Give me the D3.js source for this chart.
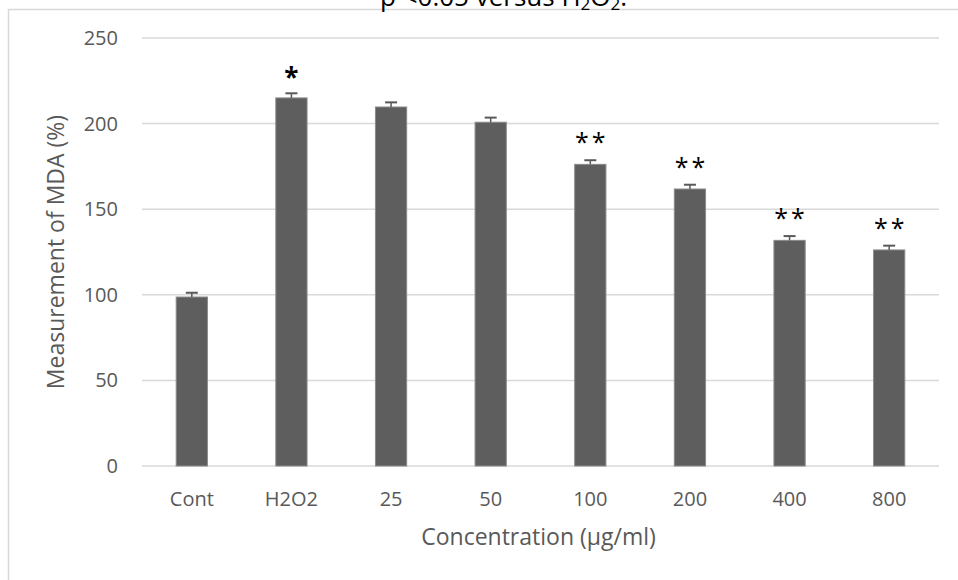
<!DOCTYPE html>
<html>
<head>
  <meta charset="utf-8">
  <style>
    body { margin: 0; background: #fff; }
    text { font-family: "Open Sans", sans-serif; }
  </style>
</head>
<body>
  <script src="https://cdn.jsdelivr.net/npm/d3@7/dist/d3.min.js"></script>
  <script>
    // data
    var groups = ["Cont", "H2O2", "25", "50", "100", "200", "400", "800"];
    var mda    = [98.7, 215.0, 209.7, 200.8, 176.2, 161.8, 131.8, 126.2];
    var errs   = [2.5, 2.7, 2.7, 2.7, 2.4, 2.5, 2.5, 2.5];
    var stars  = ["", "*", "", "", "**", "**", "**", "**"];
    var yTicks = [0, 50, 100, 150, 200, 250];

    var W = 958, H = 580;
    var margin = {top: 38, right: 19, bottom: 114, left: 142};
    var width = W - margin.left - margin.right,
        height = H - margin.top - margin.bottom;

    var svg = d3.select("body").append("svg")
      .attr("width", W)
      .attr("height", H);

    // outer frame (only top and left edges are inside the crop)
    svg.append("path")
      .attr("d", "M8.5,580 V9.5 H958")
      .attr("fill", "none")
      .attr("stroke", "#d9d9d9")
      .attr("stroke-width", 1.5);

    // title, cut off at the top of the picture
    var title = svg.append("text")
      .attr("x", 380).attr("y", 6)
      .attr("font-family", "Liberation Sans, Arial, sans-serif")
      .attr("font-size", 26)
      .attr("fill", "#000");
    title.append("tspan").text("p <0.05 versus H");
    title.append("tspan").attr("font-size", 17).attr("dy", 4).text("2");
    title.append("tspan").attr("dy", -4).text("O");
    title.append("tspan").attr("font-size", 17).attr("dy", 4).text("2");
    title.append("tspan").attr("dy", -4).text(".");

    var g = svg.append("g")
      .attr("transform", "translate(" + margin.left + "," + margin.top + ")");

    var x = d3.scaleBand().domain(groups).range([0, width]).padding(0);
    var y = d3.scaleLinear().domain([0, 250]).range([height, 0]);
    var barW = x.bandwidth() / 3.19;

    // gridlines
    g.append("g").selectAll("line")
      .data(yTicks)
      .enter().append("line")
      .attr("x1", 0).attr("x2", width)
      .attr("y1", function(d) { return y(d); })
      .attr("y2", function(d) { return y(d); })
      .attr("stroke", "#d9d9d9")
      .attr("stroke-width", 1.5);

    // y axis labels
    var yAxis = g.append("g")
      .attr("transform", "translate(-24,0)")
      .call(d3.axisLeft(y).tickValues(yTicks).tickSize(0).tickPadding(0));
    yAxis.select(".domain").remove();
    yAxis.selectAll("text")
      .attr("font-family", "Open Sans, sans-serif")
      .attr("font-size", 20)
      .attr("fill", "#595959");

    // x axis labels
    var xAxis = g.append("g")
      .attr("transform", "translate(0," + height + ")")
      .call(d3.axisBottom(x).tickSize(0).tickPadding(0));
    xAxis.select(".domain").remove();
    xAxis.selectAll("text")
      .attr("dy", null)
      .attr("y", 40)
      .attr("font-family", "Open Sans, sans-serif")
      .attr("font-size", 20)
      .attr("fill", "#595959");

    var rows = groups.map(function(k, i) {
      return {key: k, v: mda[i], e: errs[i], s: stars[i]};
    });

    // bars
    g.selectAll(".bar")
      .data(rows)
      .enter().append("rect")
      .attr("class", "bar")
      .attr("x", function(d) { return x(d.key) + (x.bandwidth() - barW) / 2; })
      .attr("y", function(d) { return y(d.v); })
      .attr("width", barW)
      .attr("height", function(d) { return height - y(d.v); })
      .attr("fill", "#5e5e5e")
      .attr("stroke", "#8a8a8a")
      .attr("stroke-width", 1);

    // error bars (upper half only, like the excel original)
    var eb = g.selectAll(".err")
      .data(rows)
      .enter().append("g")
      .attr("class", "err")
      .attr("transform", function(d) { return "translate(" + (x(d.key) + x.bandwidth() / 2) + ",0)"; });
    eb.append("line")
      .attr("x1", 0).attr("x2", 0)
      .attr("y1", function(d) { return y(d.v); })
      .attr("y2", function(d) { return y(d.v + d.e); })
      .attr("stroke", "#595959").attr("stroke-width", 1.5);
    eb.append("line")
      .attr("x1", -6).attr("x2", 6)
      .attr("y1", function(d) { return y(d.v + d.e); })
      .attr("y2", function(d) { return y(d.v + d.e); })
      .attr("stroke", "#595959").attr("stroke-width", 2);

    // significance stars
    g.selectAll(".star")
      .data(rows.filter(function(d) { return d.s; }))
      .enter().append("text")
      .attr("class", "star")
      .attr("x", function(d) { return x(d.key) + x.bandwidth() / 2 + (d.s.length > 1 ? 1.5 : 0); })
      .attr("y", function(d) { return y(d.v + d.e) - (d.s.length > 1 ? 9 : 6); })
      .attr("text-anchor", "middle")
      .attr("font-family", "DejaVu Sans, sans-serif")
      .attr("font-size", function(d) { return d.s.length > 1 ? 25 : 26; })
      .attr("font-weight", function(d) { return d.s.length > 1 ? "normal" : "bold"; })
      .attr("letter-spacing", function(d) { return d.s.length > 1 ? 3 : 0; })
      .attr("fill", "#000")
      .text(function(d) { return d.s; });

    // axis titles
    g.append("text")
      .attr("x", width / 2 - 2)
      .attr("y", height + 79)
      .attr("text-anchor", "middle")
      .attr("font-size", 23)
      .attr("fill", "#595959")
      .text("Concentration (µg/ml)");

    g.append("text")
      .attr("transform", "rotate(-90)")
      .attr("x", -(height / 2))
      .attr("y", 64 - margin.left)
      .attr("text-anchor", "middle")
      .attr("font-size", 23)
      .attr("fill", "#595959")
      .text("Measurement of MDA (%)");
  </script>
</body>
</html>
